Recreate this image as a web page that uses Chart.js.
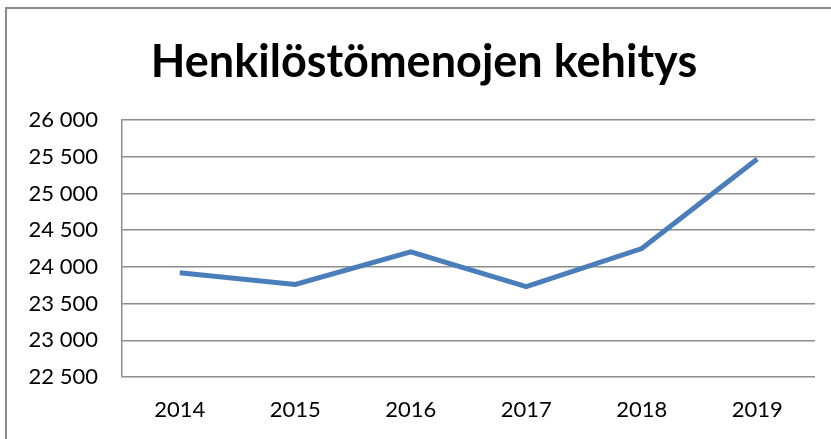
<!DOCTYPE html>
<html>
<head>
<meta charset="utf-8">
<script src="https://cdn.jsdelivr.net/npm/chart.js@4"></script>
<style>
  html, body { margin: 0; padding: 0; background: #fff; overflow: hidden; }
  #frame { position: absolute; left: 5px; top: 7px; width: 900px; height: 500px; border: 2px solid #8a8a8a; }
  #wrap { position: absolute; left: 0; top: 0; width: 831px; height: 439px; }
</style>
</head>
<body>
<div id="frame"></div>
<div id="wrap"><canvas id="chart" width="831" height="439"></canvas></div>
<script>
const years = ['2014', '2015', '2016', '2017', '2018', '2019'];
const costs = [23920, 23760, 24205, 23730, 24250, 25470];
const yMin = 22500;
const yMax = 26000;
const yStep = 500;

function fmt(v) {
  return String(v).replace(/\B(?=(\d{3})+(?!\d))/g, ' ');
}

const canvas = document.getElementById('chart');

const chart = new Chart(canvas, {
  type: 'line',
  data: {
    labels: years,
    datasets: [{
      data: costs,
      borderColor: '#4a7ebb',
      borderWidth: 5,
      pointRadius: 0,
      tension: 0,
      fill: false
    }]
  },
  options: {
    responsive: false,
    animation: false,
    layout: { padding: { left: 17, right: 0, top: 0, bottom: 0 } },
    plugins: {
      legend: { display: false },
      tooltip: { enabled: false },
      title: {
        display: true,
        text: 'Henkilöstömenojen kehitys',
        color: '#000',
        font: { family: 'Lato', size: 45, weight: 'bold', lineHeight: 1.2 },
        padding: { top: 35, bottom: 31 }
      }
    },
    scales: {
      x: {
        offset: true,
        grid: { display: false, drawTicks: false },
        border: { display: false },
        ticks: { color: '#000', font: { family: 'Lato', size: 22 }, padding: 20, maxRotation: 0 },
        afterFit: (s) => { s.height = 62; }
      },
      y: {
        min: yMin,
        max: yMax,
        grid: { color: '#8c8c8c', lineWidth: 1.5, drawTicks: false },
        border: { display: true, color: '#8c8c8c', width: 1.5 },
        ticks: {
          stepSize: yStep,
          color: '#000',
          padding: 24,
          font: { family: 'Lato', size: 22 },
          callback: (v) => fmt(v)
        },
        afterFit: (s) => { s.width = 105; }
      },
      // empty axis on the right, only keeps the gap at the right edge
      yRight: {
        position: 'right',
        min: yMin,
        max: yMax,
        grid: { display: false, drawTicks: false },
        border: { display: false },
        ticks: { display: false },
        afterFit: (s) => { s.width = 16; }
      }
    }
  }
});
</script>
</body>
</html>
